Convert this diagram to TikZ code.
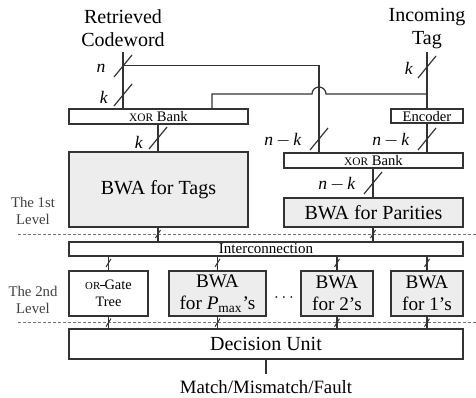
\documentclass[tikz,border=0pt]{standalone}
\usepackage{fontspec}
\setmainfont{Liberation Serif}
\usetikzlibrary{calc}
\newcommand\smallcapsxor{{\fontsize{5.7}{6}\selectfont XOR}}
\newcommand\smallcapsor{{\fontsize{5.4}{6}\selectfont OR}}
\newcommand\nmk{\textit{n}\,$-$\,\textit{k}}
\newcommand\aps{\char"0027\relax}
\begin{document}
\begin{tikzpicture}[x=0.5pt,y=-0.5pt,
  box/.style={draw=black!80, line width=0.6pt, fill=white, inner sep=0pt, align=center},
  bwa/.style={box, fill=black!7},
  bus/.style={draw=black!80, line width=0.6pt},
  big/.style={font=\fontsize{10}{11.5}\selectfont},
  mid/.style={font=\fontsize{9.6}{11}\selectfont},
  tiny/.style={font=\fontsize{7.3}{8}\selectfont},
  lvl/.style={font=\fontsize{7.4}{8.2}\selectfont, text=black!75, align=center},
  width/.style={font=\fontsize{8.8}{10}\selectfont},
  sep/.style={draw=black!55, dash pattern=on 1.5pt off 1pt, line width=0.4pt},
  bigslash/.pic={\draw[bus] (-9,11) -- (9,-11);},
  smallslash/.pic={\draw[bus, line width=0.5pt] (-2.5,4) -- (2.5,-4);}
]
\useasboundingbox (0,0) rectangle (476,397);

% inputs
\node[big, align=center] (cw) at (123,28) {Retrieved\\Codeword};
\node[big, align=center] (tag) at (427,29) {Incoming\\Tag};
\coordinate (cwin) at (123,52);
\coordinate (tagin) at (427,52);

% first level boxes
\node[box, tiny, minimum width=89.5pt, minimum height=7.5pt] (xor1) at (158.5,116.5) {\smallcapsxor{} Bank};
\node[box, tiny, minimum width=36pt, minimum height=7pt] (enc) at (427,116) {Encoder};
\node[bwa, big, minimum width=89.5pt, minimum height=37.5pt] (tags) at (158.5,189.5) {BWA for Tags};
\node[box, tiny, minimum width=89.5pt, minimum height=7.5pt] (xor2) at (373.5,160.5) {\smallcapsxor{} Bank};
\node[bwa, big, minimum width=89.5pt, minimum height=14.5pt] (par) at (373.5,212.5) {BWA for Parities};

% second level boxes
\node[box, font=\fontsize{7.5}{8.5}\selectfont, minimum width=197pt, minimum height=7pt] (inter) at (266,249) {Interconnection};
\node[box, font=\fontsize{7.2}{8.6}\selectfont, minimum width=39.5pt, minimum height=22.5pt] (org) at (108.5,293.5) {\smallcapsor\rule[0.55ex]{0.3em}{0.55pt}Gate\\Tree};
\node[bwa, mid, minimum width=48.5pt, minimum height=22.5pt] (pmax) at (217.5,293.5) {BWA\\for \textit{P}\textsubscript{max}\aps s};
\node[bwa, mid, minimum width=36pt, minimum height=22.5pt] (two) at (337,293.5) {BWA\\for 2\aps s};
\node[bwa, mid, minimum width=36pt, minimum height=22.5pt] (one) at (427,293.5) {BWA\\for 1\aps s};
\node[font=\fontsize{8}{9}\selectfont] (dots) at (284,298) {$\cdots$};
\node[box, big, minimum width=197pt, minimum height=15pt] (dec) at (266,344) {Decision Unit};
\node[font=\fontsize{9.4}{11}\selectfont] (out) at (266,387) {Match/Mismatch/Fault};

% level separators and labels
\draw[sep] (18,234) -- (476,234);
\draw[sep] (18,322) -- (476,322);
\node[lvl] (l1) at (33,211) {The 1st\\Level};
\node[lvl] (l2) at (33,300) {The 2nd\\Level};

% codeword bus: n bits, k of them go to the first XOR bank
\coordinate (nsplit) at (123,65.7);
\coordinate (nturn) at (319,65.7);
\draw[bus] (cwin) -- (cwin |- xor1.north);
\draw[bus] (nsplit) -- (nturn) -- (nturn |- xor2.north);
\pic at (123,66) {bigslash};
\pic at (123,95) {bigslash};
\node[width] (ln) at (101,68) {\textit{n}};
\node[width] (lk1) at (104,97) {\textit{k}};

% incoming tag: to encoder and, hopping over the parity bus, to the first XOR bank
\coordinate (kup) at (212,94);
\draw[bus] (tagin) -- (enc.north);
\draw[bus] (kup |- xor1.north) -- (kup) -- (312,94) arc[start angle=180, end angle=0, radius=3.5pt] -- (tagin |- kup);
\pic at (427,67) {bigslash};
\node[width] (lk2) at (409,68) {\textit{k}};

% into and out of the XOR banks
\draw[bus] (enc.south) -- (enc.south |- xor2.north);
\pic at (427,139) {bigslash};
\node[width] (lnk2) at (391,140) {\nmk};
\pic at (319,139) {bigslash};
\node[width] (lnk1) at (283,140) {\nmk};
\draw[bus] (xor1.south -| 158,0) -- (tags.north -| 158,0);
\pic at (158,138) {bigslash};
\node[width] (lk3) at (139,142) {\textit{k}};
\draw[bus] (xor2.south -| 373,0) -- (par.north -| 373,0);
\pic at (373,183) {bigslash};
\node[width] (lnk3) at (337,184) {\nmk};

% first level into interconnection
\draw[bus] (tags.south -| 158,0) -- (inter.north -| 158,0);
\pic at (158,234) {smallslash};
\draw[bus] (par.south -| 373,0) -- (inter.north -| 373,0);
\pic at (373,234) {smallslash};

% interconnection to second level, second level to decision unit
\foreach \b in {org,pmax,two,one}{
  \draw[bus] (inter.south -| \b.north) -- (\b.north);
  \pic at ($(\b.north)+(0,-7.5)$) {smallslash};
  \draw[bus] (\b.south) -- (dec.north -| \b.south);
  \pic at ($(\b.south)+(0,6)$) {smallslash};
}
\draw[bus] (dec.south) -- ++(0,14);
\end{tikzpicture}
\end{document}
